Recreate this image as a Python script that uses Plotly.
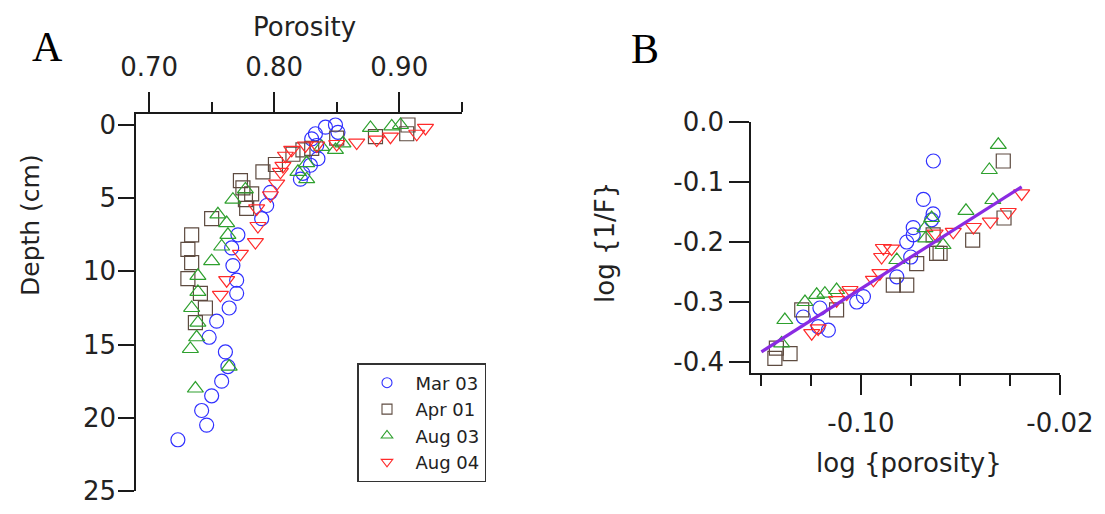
import plotly.graph_objects as go

# ---------------- Panel A data: porosity vs depth ----------------
mar03_por = [0.849, 0.841, 0.851, 0.833, 0.830, 0.834, 0.835, 0.829, 0.823, 0.821, 0.797, 0.794, 0.790,
             0.771, 0.766, 0.767, 0.770, 0.770, 0.764, 0.754, 0.748, 0.761, 0.763, 0.758, 0.750, 0.742,
             0.746, 0.723]
mar03_dep = [0.0, 0.15, 0.5, 0.6, 0.95, 1.4, 2.3, 2.75, 3.3, 3.7, 4.6, 5.5, 6.4,
             7.5, 8.4, 9.6, 10.6, 11.5, 12.5, 13.4, 14.5, 15.5, 16.5, 17.5, 18.5, 19.5,
             20.5, 21.5]

apr01_por = [0.907, 0.906, 0.881, 0.850, 0.830, 0.823, 0.815, 0.801, 0.791, 0.773, 0.775, 0.782, 0.777,
             0.778, 0.750, 0.734, 0.731, 0.734, 0.731, 0.741, 0.745, 0.737]
apr01_dep = [0.0, 0.6, 0.8, 0.9, 1.6, 1.7, 2.0, 2.7, 3.2, 3.8, 4.3, 4.7, 5.1,
             5.7, 6.4, 7.5, 8.5, 9.4, 10.5, 11.5, 12.5, 13.5]

aug03_por = [0.901, 0.894, 0.877, 0.855, 0.849, 0.838, 0.826, 0.819, 0.826, 0.777, 0.767, 0.755, 0.762,
             0.763, 0.758, 0.750, 0.739, 0.739, 0.734, 0.739, 0.738, 0.733, 0.764, 0.737]
aug03_dep = [0.0, 0.1, 0.2, 1.25, 1.7, 1.5, 2.6, 3.2, 3.7, 4.4, 5.1, 6.1, 6.7,
             7.5, 8.3, 9.3, 10.3, 11.4, 12.5, 13.5, 14.5, 15.3, 16.5, 18.0]

aug04_por = [0.921, 0.914, 0.893, 0.882, 0.866, 0.850, 0.834, 0.825, 0.814, 0.809, 0.807, 0.805, 0.802,
             0.797, 0.786, 0.787, 0.785, 0.773, 0.762, 0.757]
aug04_dep = [0.2, 0.6, 0.8, 1.0, 1.2, 1.3, 1.4, 1.4, 1.7, 2.1, 2.8, 3.2, 4.0,
             4.8, 5.7, 6.9, 8.0, 8.8, 10.6, 11.6]

# ---------------- Panel B data: log porosity vs log(1/F) ----------------
mar03_lp = [-0.0709, -0.0749, -0.0710, -0.0716, -0.0790, -0.0790, -0.0816, -0.1232, -0.1165, -0.1131,
            -0.1172, -0.0990, -0.1017, -0.0856, -0.0800]
mar03_lf = [-0.065, -0.129, -0.153, -0.163, -0.176, -0.188, -0.200, -0.325, -0.310, -0.347,
            -0.341, -0.291, -0.300, -0.258, -0.225]

apr01_lp = [-0.0428, -0.0425, -0.0551, -0.0682, -0.0710, -0.1346, -0.1285, -0.1340, -0.1238, -0.1098,
            -0.0870, -0.0816, -0.0776, -0.0696]
apr01_lf = [-0.065, -0.160, -0.197, -0.219, -0.188, -0.394, -0.386, -0.377, -0.313, -0.313,
            -0.272, -0.272, -0.236, -0.219]

aug03_lp = [-0.0448, -0.0484, -0.0470, -0.0578, -0.0716, -0.0743, -0.1306, -0.1225, -0.1178, -0.1145,
            -0.1098, -0.1319, -0.0856, -0.0670, -0.0740]
aug03_lf = [-0.038, -0.080, -0.130, -0.148, -0.160, -0.177, -0.330, -0.300, -0.288, -0.286,
            -0.280, -0.369, -0.230, -0.205, -0.194]

aug04_lp = [-0.0354, -0.0408, -0.0480, -0.0548, -0.0629, -0.0702, -0.0910, -0.1198, -0.1172, -0.1098,
            -0.1057, -0.1044, -0.0950, -0.0924, -0.0877, -0.0917]
aug04_lf = [-0.119, -0.150, -0.166, -0.175, -0.183, -0.186, -0.210, -0.352, -0.344, -0.297,
            -0.286, -0.280, -0.263, -0.252, -0.211, -0.225]

fit_x = [-0.140, -0.0354]
fit_y = [-0.383, -0.108]

series_names = ["Mar 03", "Apr 01", "Aug 03", "Aug 04"]
colors = ["#3030ff", "#5e4b40", "#2ea02e", "#ff2a2a"]
symbols = ["circle-open", "square-open", "triangle-up-open", "triangle-down-open"]

a_x = [mar03_por, apr01_por, aug03_por, aug04_por]
a_y = [mar03_dep, apr01_dep, aug03_dep, aug04_dep]
b_x = [mar03_lp, apr01_lp, aug03_lp, aug04_lp]
b_y = [mar03_lf, apr01_lf, aug03_lf, aug04_lf]

FONT = "DejaVu Sans"
TXT = "#222222"
AX = "#1a1a1a"

fig = go.Figure()
for i, name in enumerate(series_names):
    fig.add_trace(go.Scatter(
        x=a_x[i], y=a_y[i], mode="markers", name=name, legendgroup=name,
        marker=dict(symbol=symbols[i], size=14, color=colors[i], line=dict(width=1.2, color=colors[i])),
        xaxis="x", yaxis="y", showlegend=False))
for i, name in enumerate(series_names):
    fig.add_trace(go.Scatter(
        x=b_x[i], y=b_y[i], mode="markers", name=name, legendgroup=name,
        marker=dict(symbol=symbols[i], size=14, color=colors[i], line=dict(width=1.2, color=colors[i])),
        xaxis="x2", yaxis="y2", showlegend=False))
# legend entries (smaller symbols, as in the reference legend)
for i, name in enumerate(series_names):
    fig.add_trace(go.Scatter(
        x=[None], y=[None], mode="markers", name=name, legendgroup=name,
        marker=dict(symbol=symbols[i], size=10, color=colors[i], line=dict(width=1.1, color=colors[i])),
        xaxis="x", yaxis="y", showlegend=True))
fig.add_trace(go.Scatter(x=fit_x, y=fit_y, mode="lines", line=dict(color="#8a2be2", width=3.2),
                         xaxis="x2", yaxis="y2", showlegend=False, hoverinfo="skip"))

W, H = 1105, 514
def px_x(p):
    return p / W
def px_y(p):
    return (H - p) / H

axis_common = dict(showgrid=False, zeroline=False, showline=True, linecolor=AX, linewidth=1.5,
                   ticks="outside", tickcolor=AX, tickwidth=1.5, automargin=False,
                   tickfont=dict(family=FONT, size=26, color=TXT))

def ann(text, x, y, size=26, angle=0, family=FONT, color=TXT):
    return dict(text=text, x=px_x(x), y=px_y(y), xref="paper", yref="paper",
                xanchor="center", yanchor="middle", textangle=angle, showarrow=False,
                font=dict(family=family, size=size, color=color))

fig.update_layout(
    width=W, height=H,
    margin=dict(l=0, r=0, t=0, b=0, autoexpand=False),
    paper_bgcolor="white", plot_bgcolor="white",
    font=dict(family=FONT, color=TXT),
    xaxis=dict(domain=[px_x(136), px_x(462)], range=[0.6895, 0.9502], side="top", anchor="y",
               tickmode="linear", tick0=0.70, dtick=0.10, tickformat=".2f", ticklen=20,
               ticklabelstandoff=6,
               minor=dict(tickmode="linear", tick0=0.70, dtick=0.05, ticklen=10, ticks="outside",
                          tickcolor=AX, tickwidth=1.5),
               **axis_common),
    yaxis=dict(domain=[px_y(491), px_y(114)], range=[25, -0.75], anchor="x",
               tickmode="array", tickvals=[0, 5, 10, 15, 20, 25], ticklen=16, ticklabelstandoff=-3,
               **axis_common),
    xaxis2=dict(domain=[px_x(751), px_x(1060)], range=[-0.1442, -0.0200], anchor="y2",
                tickmode="array", tickvals=[-0.10, -0.02], ticktext=["-0.10", "-0.02"], ticklen=20,
                ticklabelstandoff=6,
                minor=dict(tickmode="array", tickvals=[-0.14, -0.12, -0.08, -0.06, -0.04],
                           ticklen=11, ticks="outside", tickcolor=AX, tickwidth=1.5),
                **axis_common),
    yaxis2=dict(domain=[px_y(373), px_y(122)], range=[-0.4183, 0.0], anchor="x2",
                tickmode="array", tickvals=[0.0, -0.1, -0.2, -0.3, -0.4],
                ticktext=["0.0", "-0.1", "-0.2", "-0.3", "-0.4"], ticklen=20, **axis_common),
    legend=dict(x=px_x(357), y=px_y(363), xanchor="left", yanchor="top",
                bordercolor="#333333", borderwidth=1.5, bgcolor="white",
                font=dict(family=FONT, size=18, color=TXT), tracegroupgap=0,
                itemwidth=47),
    annotations=[
        ann("Porosity", 304, 27),
        ann("Depth (cm)", 30, 225, size=25, angle=-90),
        ann("log {1/F}", 605, 243, angle=-90),
        ann("log {porosity}", 909, 463),
        ann("A", 47, 47, size=42, family="Liberation Serif", color="#000000"),
        ann("B", 645, 49, size=42, family="Liberation Serif", color="#000000"),
    ],
)

fig.write_html("out.html", config={"displayModeBar": False},
               post_script="document.body.style.margin='0px';")
